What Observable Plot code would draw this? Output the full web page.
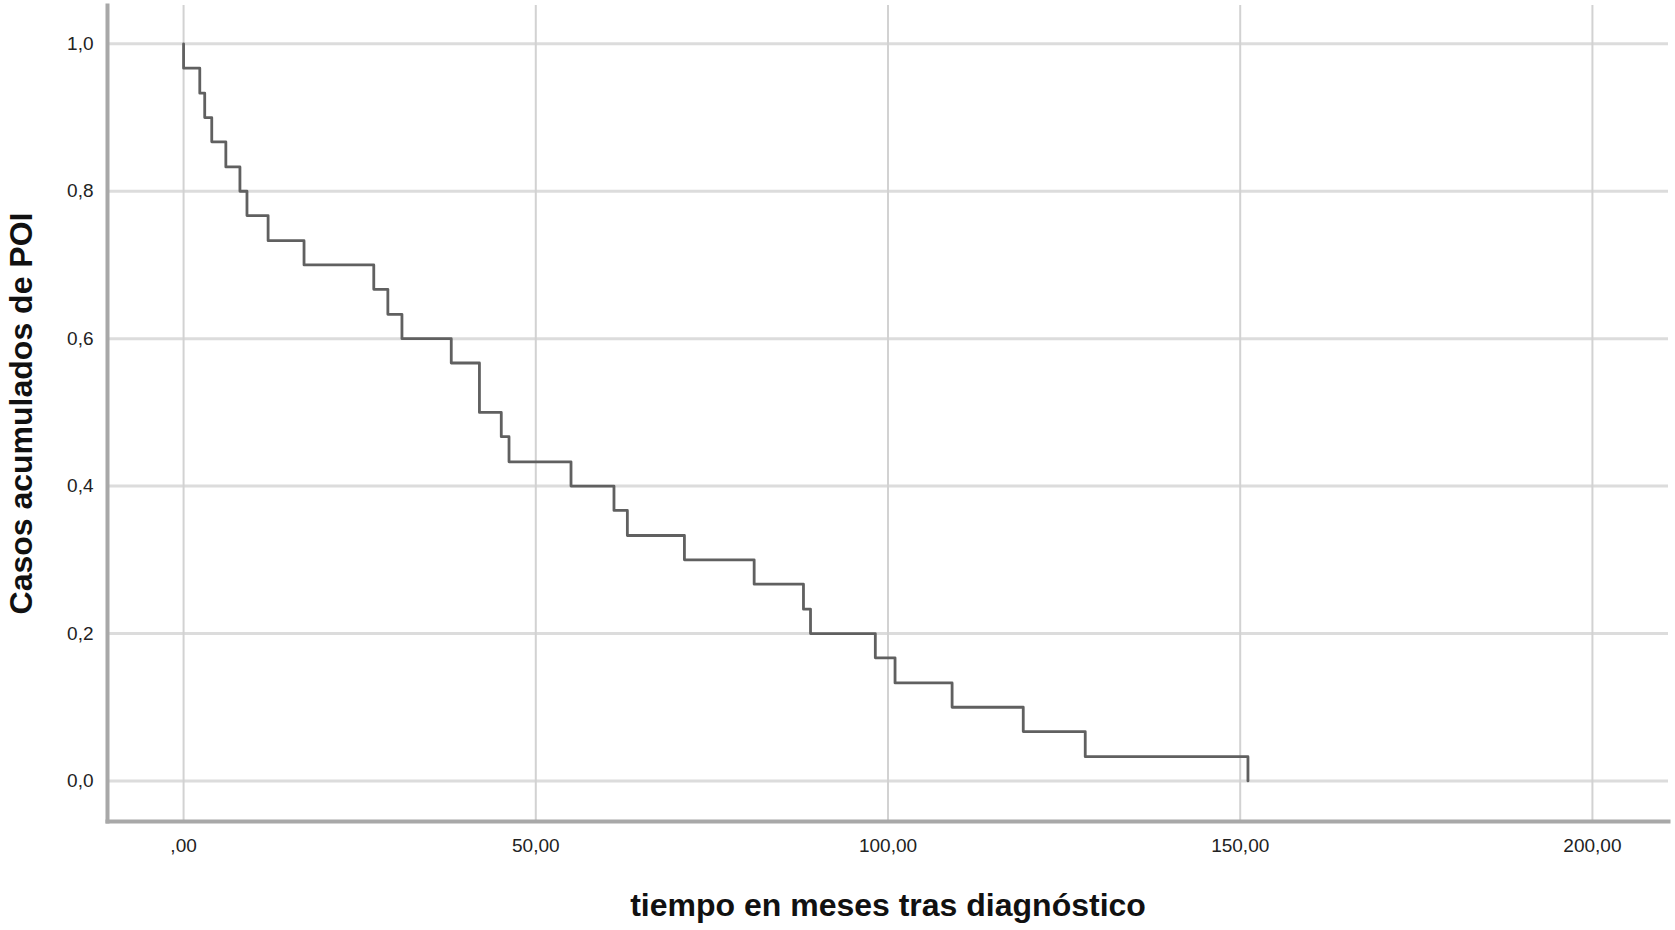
<!DOCTYPE html>
<html>
<head>
<meta charset="utf-8">
<script src="https://cdn.jsdelivr.net/npm/d3@7"></script>
<script src="https://cdn.jsdelivr.net/npm/@observablehq/plot@0.6"></script>
<style>
  html, body { margin: 0; padding: 0; background: #fff; }
  #chart svg { display: block; }
</style>
</head>
<body>
<div id="chart"></div>
<script>
// Event times (months) and cumulative proportion
const times = [0, 0, 2.3, 3.0, 4.0, 6.0, 8.0, 9.0, 12.0, 17.1,
  27.0, 29.0, 31.0, 38.0, 42.0, 45.1, 46.2, 55.0, 61.1, 63.0,
  71.1, 81.0, 88.0, 89.0, 98.2, 101.0, 109.1, 119.2, 128.0, 151.1];
const cumulative = [1.0, 0.967, 0.933, 0.9, 0.867, 0.833, 0.8, 0.767, 0.733, 0.7,
  0.667, 0.633, 0.6, 0.567, 0.5, 0.467, 0.433, 0.4, 0.367, 0.333,
  0.3, 0.267, 0.233, 0.2, 0.167, 0.133, 0.1, 0.067, 0.033, 0];
const xTicks = [0, 50, 100, 150, 200];
const yTicks = [0, 0.2, 0.4, 0.6, 0.8, 1.0];
const xTitle = "tiempo en meses tras diagnóstico";
const yTitle = "Casos acumulados de POI";

const data = times.map((t, i) => ({t, v: cumulative[i]}));
const fmtX = d => d === 0 ? ",00" : d3.format(".2f")(d).replace(".", ",");
const fmtY = d => d3.format(".1f")(d).replace(".", ",");
const font = "'Liberation Sans', Arial, sans-serif";

const chart = Plot.plot({
  width: 1675,
  height: 930,
  marginLeft: 107,
  marginRight: 7,
  marginTop: 5,
  marginBottom: 109,
  style: {fontFamily: font, background: "#fff", color: "#222"},
  x: {domain: [-10.8, 210.8]},
  y: {domain: [-0.055, 1.052]},
  marks: [
    Plot.gridY(yTicks, {stroke: "#dcdcdc", strokeOpacity: 1, strokeWidth: 3}),
    Plot.gridX(xTicks, {stroke: "#d2d2d2", strokeOpacity: 1, strokeWidth: 2}),
    Plot.axisX(xTicks, {tickSize: 0, tickPadding: 17, tickFormat: fmtX, fontSize: 19, fill: "#222", label: null}),
    Plot.axisY(yTicks, {tickSize: 0, tickPadding: 14, tickFormat: fmtY, fontSize: 19, fill: "#222", label: null}),
    Plot.frame({anchor: "left", stroke: "#a8a8a8", strokeWidth: 4}),
    Plot.frame({anchor: "bottom", stroke: "#a8a8a8", strokeWidth: 4}),
    Plot.line(data, {x: "t", y: "v", curve: "step-after", stroke: "#606060", strokeWidth: 2.8}),
    Plot.text([xTitle], {frameAnchor: "bottom", textAnchor: "middle", dy: 94, fontSize: 32, fontWeight: "bold", fill: "#111", text: d => d}),
    Plot.text([yTitle], {frameAnchor: "left", textAnchor: "middle", dx: -86, rotate: -90, fontSize: 32, fontWeight: "bold", fill: "#111", text: d => d})
  ]
});
document.getElementById("chart").appendChild(chart);
</script>
</body>
</html>
